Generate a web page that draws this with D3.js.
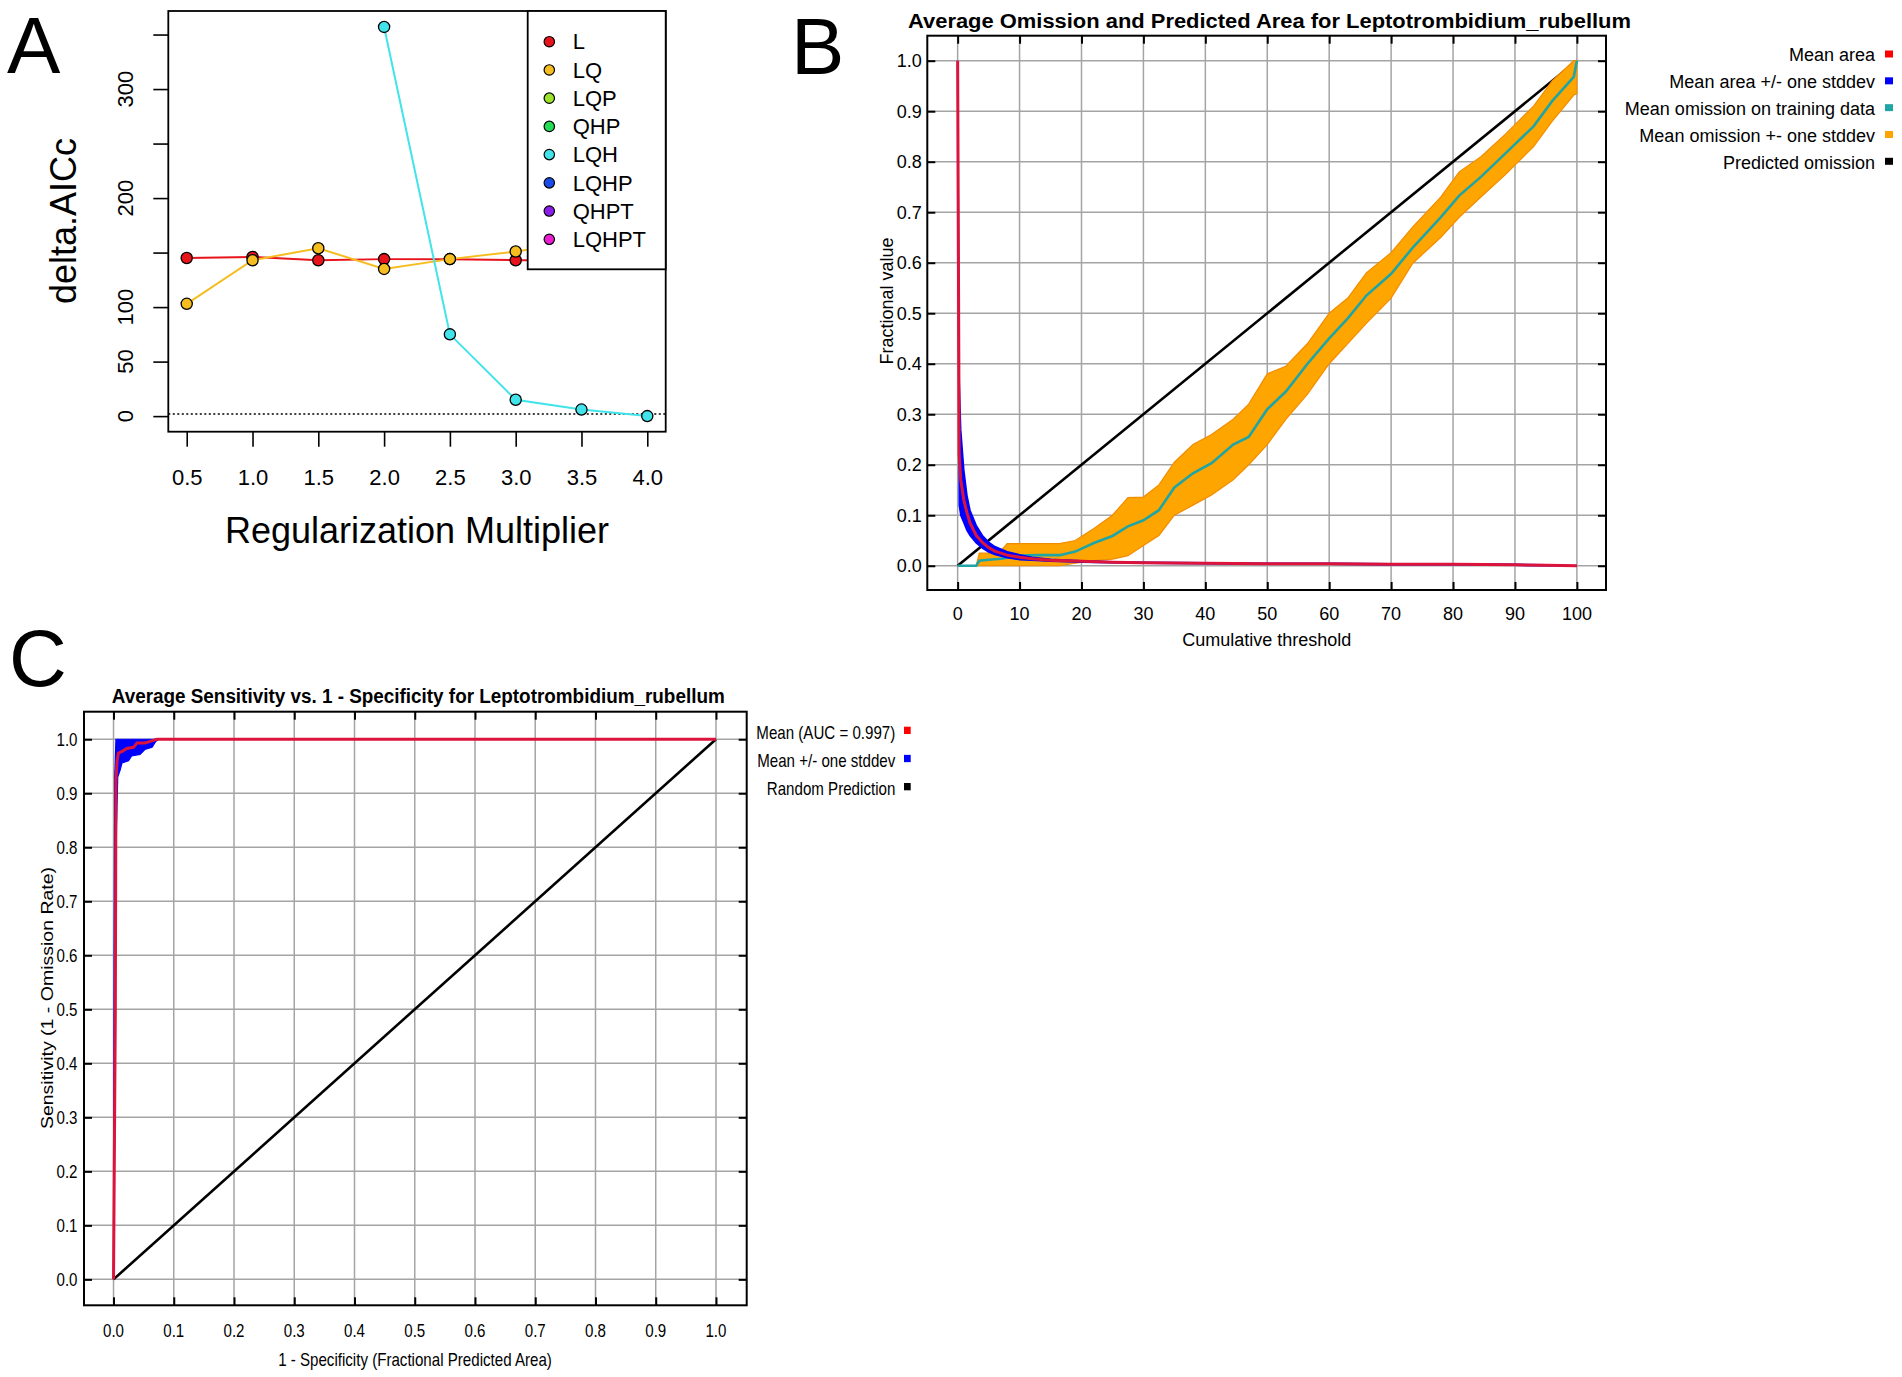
<!DOCTYPE html>
<html><head><meta charset="utf-8">
<script src="https://cdn.jsdelivr.net/npm/d3@7"></script>
<style>body{margin:0;background:#fff}svg{display:block}</style>
</head><body>
<svg id="fig" width="1902" height="1377"></svg>
<script>
// ---------------- Panel A data ----------------
const regMultipliers = [0.5, 1.0, 1.5, 2.0, 2.5, 3.0, 3.5, 4.0];
const featureClasses = ["L", "LQ", "LQP", "QHP", "LQH", "LQHP", "QHPT", "LQHPT"];
const deltaL   = [145, 146, 143, 144, 144, 143, 143, 143];
const deltaLQ  = [103, 143, 154, 135, 144, 151, 160, 150];
const deltaLQH = [null, null, null, 357, 75, 15, 6, 0];
const aicTicks = [0, 50, 100, 150, 200, 250, 300, 350];
const aicTickLabels = ["0", "50", "100", "", "200", "", "300", ""];
const aicThreshold = 2;

// ---------------- Panel B data ----------------
const areaThreshold = [0, 0.25, 0.5, 1, 1.5, 2, 3, 4, 5, 6, 8, 10, 12, 15, 20, 25, 30, 40, 50, 60, 70, 80, 90, 95, 100];
const areaMean  = [1.0, 0.22, 0.17, 0.13, 0.105, 0.085, 0.06, 0.046, 0.036, 0.029, 0.021, 0.017, 0.014, 0.011, 0.009, 0.007, 0.006, 0.005, 0.004, 0.004, 0.003, 0.003, 0.002, 0.001, 0.0];
const areaUpper = [1.0, 0.37, 0.27, 0.19, 0.14, 0.11, 0.08, 0.06, 0.047, 0.038, 0.028, 0.022, 0.017, 0.013, 0.010, 0.008, 0.007, 0.006, 0.005, 0.005, 0.004, 0.004, 0.003, 0.002, 0.0];
const areaLower = [1.0, 0.12, 0.10, 0.085, 0.07, 0.06, 0.045, 0.035, 0.027, 0.022, 0.016, 0.012, 0.011, 0.009, 0.007, 0.006, 0.005, 0.004, 0.003, 0.003, 0.002, 0.002, 0.001, 0.0, 0.0];

const omisThreshold = [0, 3, 3.5, 5, 7, 8, 10, 13, 16.5, 19, 22, 25, 27.5, 30, 32.5, 35, 38, 41, 44.5, 47, 50, 53, 56.5, 60, 63, 66, 70, 73.5, 78, 81, 84.5, 88.5, 93, 96, 99.5, 100];
const omisMean  = [0, 0, 0.010, 0.012, 0.014, 0.016, 0.020, 0.021, 0.021, 0.028, 0.045, 0.059, 0.078, 0.090, 0.110, 0.155, 0.183, 0.203, 0.240, 0.255, 0.310, 0.345, 0.400, 0.450, 0.490, 0.535, 0.578, 0.630, 0.690, 0.733, 0.770, 0.817, 0.870, 0.920, 0.968, 1.0];
const omisUpper = [0, 0, 0.025, 0.025, 0.030, 0.044, 0.044, 0.044, 0.044, 0.050, 0.074, 0.100, 0.135, 0.136, 0.160, 0.205, 0.240, 0.260, 0.290, 0.320, 0.380, 0.395, 0.440, 0.500, 0.530, 0.580, 0.620, 0.671, 0.730, 0.780, 0.810, 0.855, 0.910, 0.960, 1.0, 1.0];
const omisLower = [0, 0, 0, 0, 0, 0, 0, 0, 0, 0.005, 0.010, 0.013, 0.020, 0.040, 0.060, 0.100, 0.120, 0.140, 0.170, 0.200, 0.240, 0.290, 0.340, 0.400, 0.440, 0.480, 0.530, 0.599, 0.650, 0.690, 0.730, 0.775, 0.830, 0.880, 0.932, 0.935];
const predictedOmission = [[0, 0], [100, 1]];
const thresholdTicks = [0, 10, 20, 30, 40, 50, 60, 70, 80, 90, 100];
const fracTicks = [0, 0.1, 0.2, 0.3, 0.4, 0.5, 0.6, 0.7, 0.8, 0.9, 1.0];
const legendB = ["Mean area", "Mean area +/- one stddev", "Mean omission on training data", "Mean omission +- one stddev", "Predicted omission"];

// ---------------- Panel C data ----------------
const rocMeanFpr = [0, 0.003, 0.004, 0.006, 0.008, 0.015, 0.022, 0.033, 0.039, 0.052, 0.061, 0.072, 1.0];
const rocMeanTpr = [0, 0.50, 0.925, 0.960, 0.974, 0.978, 0.983, 0.985, 0.993, 0.993, 0.996, 1.0, 1.0];
const rocUpperFpr = [0, 0.001, 0.002, 0.004, 1.0];
const rocUpperTpr = [0, 0.60, 0.93, 1.0, 1.0];
const rocLowerFpr = [0, 0.002, 0.003, 0.005, 0.007, 0.011, 0.014, 0.025, 0.030, 0.044, 0.052, 0.064, 0.070, 0.075, 1.0];
const rocLowerTpr = [0, 0.28, 0.66, 0.84, 0.93, 0.943, 0.956, 0.960, 0.969, 0.972, 0.981, 0.985, 0.996, 1.0, 1.0];
const randomPrediction = [[0, 0], [1, 1]];
const rocTicks = [0, 0.1, 0.2, 0.3, 0.4, 0.5, 0.6, 0.7, 0.8, 0.9, 1.0];
const legendC = ["Mean (AUC = 0.997)", "Mean +/- one stddev", "Random Prediction"];

// ---------------- styles ----------------
const classColors = {L: "#e8141c", LQ: "#f5bd1f", LQP: "#9de22a", QHP: "#22dd55", LQH: "#40e4ea", LQHP: "#1a4ae8", QHPT: "#8a1ee8", LQHPT: "#e81ed0"};
const colorsB = ["#ff0000", "#0000ff", "#1fa5a5", "#ffa500", "#000000"];
const colorsC = ["#ff0000", "#0000ff", "#000000"];
const FONT = "'Liberation Sans', Arial, Helvetica, sans-serif";
const GRID = "#a4a4a4";

const svg = d3.select("#fig");

function label(g, x, y, s, o = {}) {
  const sx = o.sx ?? 1;
  let tr = `translate(${x},${y})`;
  if (sx !== 1) tr += ` scale(${sx},1)`;
  if (o.rot) tr += ` rotate(${o.rot})`;
  const t = g.append("text").attr("transform", tr)
    .attr("text-anchor", o.anchor || "middle")
    .attr("dy", o.dy ?? "0.35em")
    .style("font-family", FONT).style("font-size", (o.size || 18) + "px")
    .style("font-weight", o.weight || "normal").style("fill", o.fill || "#000")
    .text(s);
  if (o.len) t.attr("textLength", o.len).attr("lengthAdjust", "spacingAndGlyphs");
  return t;
}

// panel letters
label(svg, 7, 73, "A", {size: 80, anchor: "start", dy: 0});
label(svg, 791, 74, "B", {size: 80, anchor: "start", dy: 0});
label(svg, 9, 686, "C", {size: 80, anchor: "start", dy: 0});

// =============== Panel A ===============
(function () {
  const g = svg.append("g");
  const xA = d3.scaleLinear().domain([0.36, 4.14]).range([168.3, 665.7]);
  const yA = d3.scaleLinear().domain([-14.3, 371.6]).range([431.7, 11]);

  g.append("line").attr("x1", xA.range()[0]).attr("x2", xA.range()[1])
    .attr("y1", yA(aicThreshold)).attr("y2", yA(aicThreshold))
    .attr("stroke", "#000").attr("stroke-width", 1.6).attr("stroke-dasharray", "2,2.5");

  const series = [{name: "L", values: deltaL}, {name: "LQ", values: deltaLQ}, {name: "LQH", values: deltaLQH}];
  const line = d3.line().defined(d => d[1] != null).x(d => xA(d[0])).y(d => yA(d[1]));
  series.forEach(s => {
    const pts = regMultipliers.map((m, i) => [m, s.values[i]]);
    g.append("path").datum(pts).attr("d", line).attr("fill", "none")
      .attr("stroke", classColors[s.name]).attr("stroke-width", 2);
    g.selectAll(null).data(pts.filter(d => d[1] != null)).join("circle")
      .attr("cx", d => xA(d[0])).attr("cy", d => yA(d[1])).attr("r", 5.6)
      .attr("fill", classColors[s.name]).attr("stroke", "#000").attr("stroke-width", 1.3);
  });

  g.append("rect").attr("x", 168.3).attr("y", 11).attr("width", 665.7 - 168.3).attr("height", 431.7 - 11)
    .attr("fill", "none").attr("stroke", "#000").attr("stroke-width", 1.8);

  const xAxis = g.append("g").attr("transform", "translate(0,431.7)")
    .call(d3.axisBottom(xA).tickValues(regMultipliers).tickSize(15).tickFormat(d3.format(".1f")));
  xAxis.select(".domain").remove();
  xAxis.selectAll("line").attr("stroke-width", 1.6);
  xAxis.selectAll("text").attr("y", 46).attr("dy", "0.35em")
    .style("font-family", FONT).style("font-size", "22px").attr("fill", "#000");

  const yAxis = g.append("g").attr("transform", "translate(168.3,0)")
    .call(d3.axisLeft(yA).tickValues(aicTicks).tickSize(15).tickFormat(""));
  yAxis.select(".domain").remove();
  yAxis.selectAll("line").attr("stroke-width", 1.6);
  aicTicks.forEach((v, i) => {
    if (aicTickLabels[i]) label(g, 125, yA(v), aicTickLabels[i], {size: 22, rot: -90});
  });

  label(g, 63.5, 221, "delta.AICc", {size: 36, rot: -90});
  label(g, 417, 543, "Regularization Multiplier", {size: 36, dy: 0});

  // legend
  g.append("rect").attr("x", 527.7).attr("y", 11).attr("width", 138).attr("height", 258.3)
    .attr("fill", "#fff").attr("stroke", "#000").attr("stroke-width", 1.8);
  const rowA = d3.scaleLinear().domain([0, 7]).range([41.7, 239.3]);
  featureClasses.forEach((c, i) => {
    g.append("circle").attr("cx", 549.3).attr("cy", rowA(i)).attr("r", 5.2)
      .attr("fill", classColors[c]).attr("stroke", "#000").attr("stroke-width", 1.2);
    label(g, 572.7, rowA(i), c, {size: 22, anchor: "start"});
  });
})();

// =============== Panel B ===============
(function () {
  const g = svg.append("g");
  const L = 927.3, R = 1606, T = 35.7, B = 590;
  const xB = d3.scaleLinear().domain([-4.9, 104.7]).range([L, R]);
  const yB = d3.scaleLinear().domain([-0.048, 1.0495]).range([B, T]);

  // grid
  g.selectAll(null).data(thresholdTicks).join("line")
    .attr("x1", d => xB(d)).attr("x2", d => xB(d)).attr("y1", T).attr("y2", B)
    .attr("stroke", GRID).attr("stroke-width", 1.5);
  g.selectAll(null).data(fracTicks).join("line")
    .attr("y1", d => yB(d)).attr("y2", d => yB(d)).attr("x1", L).attr("x2", R)
    .attr("stroke", GRID).attr("stroke-width", 1.5);

  const line = d3.line().x(d => xB(d[0])).y(d => yB(d[1]));
  // predicted omission
  g.append("path").datum(predictedOmission).attr("d", line).attr("fill", "none")
    .attr("stroke", "#000").attr("stroke-width", 2.6);

  // omission band
  const omis = omisThreshold.map((t, i) => ({t, m: omisMean[i], lo: omisLower[i], hi: omisUpper[i]}));
  g.append("path").datum(omis)
    .attr("d", d3.area().x(d => xB(d.t)).y0(d => yB(d.lo)).y1(d => yB(d.hi)))
    .attr("fill", "#ffa500").attr("stroke", "#f28c00").attr("stroke-width", 1.2);
  g.append("path").datum(omis.map(d => [d.t, d.m])).attr("d", line).attr("fill", "none")
    .attr("stroke", "#1fa5a5").attr("stroke-width", 2.6);

  // area band
  const area = areaThreshold.map((t, i) => ({t, m: areaMean[i], lo: areaLower[i], hi: areaUpper[i]}));
  g.append("path").datum(area)
    .attr("d", d3.area().x(d => xB(d.t)).y0(d => yB(d.lo)).y1(d => yB(d.hi)))
    .attr("fill", "#0000ff").attr("stroke", "#0000ff").attr("stroke-width", 1.5);
  g.append("path").datum(area.map(d => [d.t, d.m])).attr("d", line).attr("fill", "none")
    .attr("stroke", "#dc143c").attr("stroke-width", 3);

  // frame + inward ticks
  g.append("rect").attr("x", L).attr("y", T).attr("width", R - L).attr("height", B - T)
    .attr("fill", "none").attr("stroke", "#000").attr("stroke-width", 2);
  const axB = g.append("g").attr("transform", `translate(0,${B})`)
    .call(d3.axisBottom(xB).tickValues(thresholdTicks).tickSizeInner(-8).tickSizeOuter(0).tickPadding(0).tickFormat(""));
  const axT = g.append("g").attr("transform", `translate(0,${T})`)
    .call(d3.axisTop(xB).tickValues(thresholdTicks).tickSizeInner(-8).tickSizeOuter(0).tickFormat(""));
  const axL = g.append("g").attr("transform", `translate(${L},0)`)
    .call(d3.axisLeft(yB).tickValues(fracTicks).tickSizeInner(-8).tickSizeOuter(0).tickFormat(""));
  const axR = g.append("g").attr("transform", `translate(${R},0)`)
    .call(d3.axisRight(yB).tickValues(fracTicks).tickSizeInner(-8).tickSizeOuter(0).tickFormat(""));
  [axB, axT, axL, axR].forEach(a => { a.select(".domain").remove(); a.selectAll("line").attr("stroke-width", 2); });

  thresholdTicks.forEach(v => label(g, xB(v), 613.3, String(v), {size: 18}));
  fracTicks.forEach(v => label(g, 921.7, yB(v), d3.format(".1f")(v), {size: 18, anchor: "end"}));

  label(g, 1269.5, 27.7, "Average Omission and Predicted Area for Leptotrombidium_rubellum",
    {size: 20, weight: "bold", dy: 0, len: 723});
  label(g, 1266.7, 640, "Cumulative threshold", {size: 18});
  label(g, 886.5, 301, "Fractional value", {size: 18, rot: -90});

  const rowB = d3.scaleLinear().domain([0, 4]).range([55, 162.3]);
  legendB.forEach((s, i) => {
    label(g, 1875, rowB(i), s, {size: 18, anchor: "end"});
    g.append("rect").attr("x", 1885).attr("y", rowB(i) - 4.5).attr("width", 8).attr("height", 7).attr("fill", colorsB[i]);
  });
})();

// =============== Panel C ===============
(function () {
  const g = svg.append("g");
  const L = 84, R = 746.7, T = 711.7, B = 1305.3, SX = 0.84;
  const xC = d3.scaleLinear().domain([-0.049, 1.051]).range([L, R]);
  const yC = d3.scaleLinear().domain([-0.048, 1.051]).range([B, T]);

  g.selectAll(null).data(rocTicks).join("line")
    .attr("x1", d => xC(d)).attr("x2", d => xC(d)).attr("y1", T).attr("y2", B)
    .attr("stroke", GRID).attr("stroke-width", 1.5);
  g.selectAll(null).data(rocTicks).join("line")
    .attr("y1", d => yC(d)).attr("y2", d => yC(d)).attr("x1", L).attr("x2", R)
    .attr("stroke", GRID).attr("stroke-width", 1.5);

  const line = d3.line().x(d => xC(d[0])).y(d => yC(d[1]));
  const upper = rocUpperFpr.map((f, i) => [f, rocUpperTpr[i]]);
  const lower = rocLowerFpr.map((f, i) => [f, rocLowerTpr[i]]);
  g.append("path").attr("d", line(upper.concat(lower.slice().reverse())) + "Z")
    .attr("fill", "#0000ff").attr("stroke", "#0000ff").attr("stroke-width", 1.2);

  g.append("path").datum(randomPrediction).attr("d", line).attr("fill", "none")
    .attr("stroke", "#000").attr("stroke-width", 2.6);
  g.append("path").datum(rocMeanFpr.map((f, i) => [f, rocMeanTpr[i]])).attr("d", line)
    .attr("fill", "none").attr("stroke", "#dc143c").attr("stroke-width", 3);

  g.append("rect").attr("x", L).attr("y", T).attr("width", R - L).attr("height", B - T)
    .attr("fill", "none").attr("stroke", "#000").attr("stroke-width", 2);
  const axB = g.append("g").attr("transform", `translate(0,${B})`)
    .call(d3.axisBottom(xC).tickValues(rocTicks).tickSizeInner(-8).tickSizeOuter(0).tickFormat(""));
  const axT = g.append("g").attr("transform", `translate(0,${T})`)
    .call(d3.axisTop(xC).tickValues(rocTicks).tickSizeInner(-8).tickSizeOuter(0).tickFormat(""));
  const axL = g.append("g").attr("transform", `translate(${L},0)`)
    .call(d3.axisLeft(yC).tickValues(rocTicks).tickSizeInner(-8).tickSizeOuter(0).tickFormat(""));
  const axR = g.append("g").attr("transform", `translate(${R},0)`)
    .call(d3.axisRight(yC).tickValues(rocTicks).tickSizeInner(-8).tickSizeOuter(0).tickFormat(""));
  [axB, axT, axL, axR].forEach(a => { a.select(".domain").remove(); a.selectAll("line").attr("stroke-width", 2); });

  const f1 = d3.format(".1f");
  rocTicks.forEach(v => label(g, xC(v), 1331, f1(v), {size: 18, sx: SX}));
  rocTicks.forEach(v => label(g, 77.5, yC(v), f1(v), {size: 18, anchor: "end", sx: SX}));

  label(g, 418.2, 702.7, "Average Sensitivity vs. 1 - Specificity for Leptotrombidium_rubellum",
    {size: 20, weight: "bold", dy: 0, len: 613});
  label(g, 415, 1360, "1 - Specificity (Fractional Predicted Area)", {size: 18, sx: SX});
  label(g, 47.3, 998, "Sensitivity (1 - Omission Rate)", {size: 19.5, sx: SX, rot: -90});

  const rowC = d3.scaleLinear().domain([0, 2]).range([732.7, 789]);
  legendC.forEach((s, i) => {
    label(g, 895.3, rowC(i), s, {size: 18, anchor: "end", sx: SX});
    g.append("rect").attr("x", 904).attr("y", rowC(i) - 6).attr("width", 6.7).attr("height", 7.3).attr("fill", colorsC[i]);
  });
})();
</script>
</body></html>
